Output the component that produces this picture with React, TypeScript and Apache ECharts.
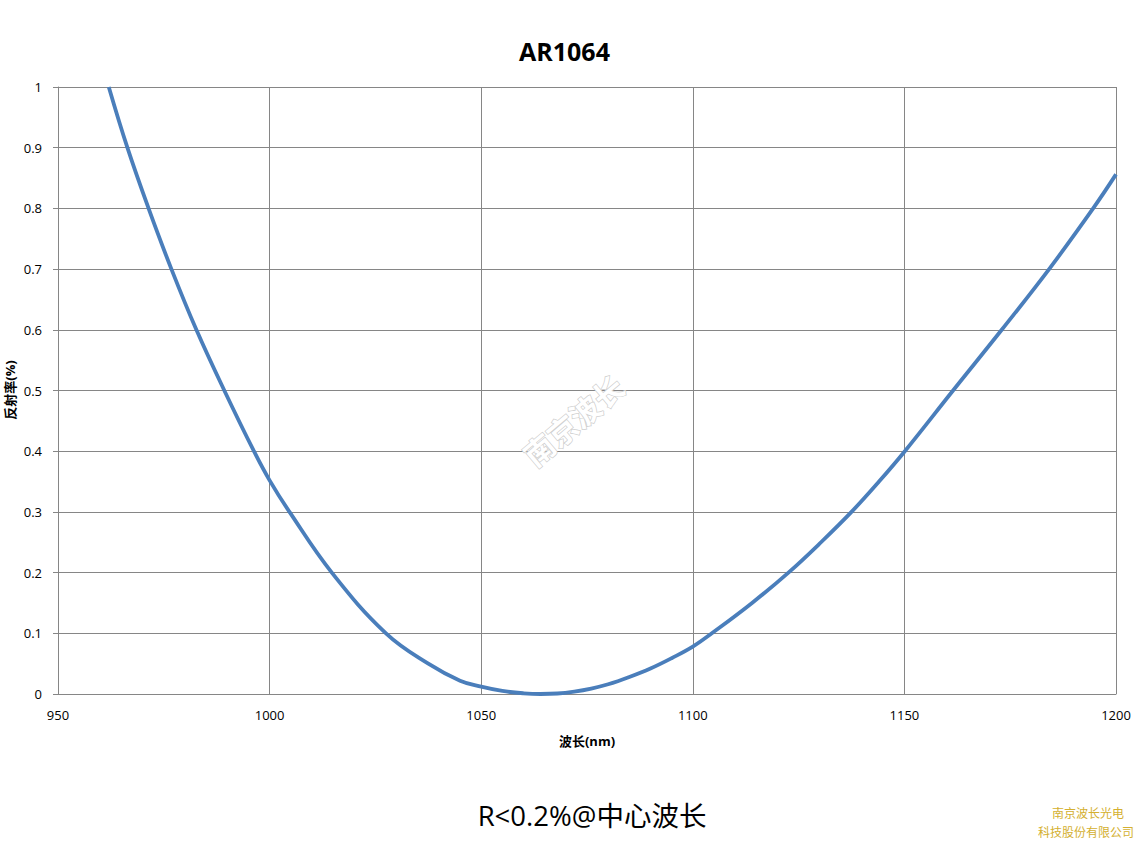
import React, { useEffect, useRef } from "react";
import * as echarts from "echarts";

const wavelengths = [962, 966.4, 971.4, 976.8, 982.7, 989.3, 996.3, 1000, 1004.7, 1014.7, 1027.5, 1037.5, 1045, 1050, 1055, 1060, 1064, 1068, 1072, 1076, 1080, 1085, 1090, 1095, 1100, 1104.5, 1114, 1122.6, 1130.3, 1137.5, 1144, 1150.1, 1161.5, 1173, 1184.2, 1194.6, 1200];
const reflectance = [1.0, 0.9, 0.8, 0.7, 0.6, 0.5, 0.4, 0.352, 0.3, 0.2, 0.1, 0.05, 0.022, 0.012, 0.005, 0.0012, 0.0, 0.0008, 0.004, 0.009, 0.016, 0.028, 0.042, 0.059, 0.078, 0.1, 0.15, 0.2, 0.25, 0.3, 0.35, 0.4, 0.5, 0.6, 0.7, 0.8, 0.856];
const titleText = "AR1064";
const xName = "波长(nm)";
const yName = "反射率(%)";
const noteText = "R<0.2%@中心波长";
const watermarkText = "南京波长";
const companyLines = ["南京波长光电", "科技股份有限公司"];

const font = "'Open Sans', 'Noto Sans CJK SC', sans-serif";

export default function App() {
  const ref = useRef<HTMLDivElement>(null);
  useEffect(() => {
    if (!ref.current) return;
    const chart = echarts.init(ref.current, null, { renderer: "svg" });
    chart.setOption({
      animation: false,
      backgroundColor: "#ffffff",
      textStyle: { fontFamily: font },
      title: {
        text: titleText,
        left: 514,
        top: 33,
        textStyle: { fontSize: 25, fontWeight: "bold", color: "#000", fontFamily: font },
      },
      grid: { left: 58, right: 32, top: 87, bottom: 151, containLabel: false, outerBoundsMode: "none" },
      xAxis: {
        type: "value",
        min: 950,
        max: 1200,
        interval: 50,
        name: xName,
        nameLocation: "middle",
        nameGap: 40,
        nameTextStyle: { fontSize: 13, fontWeight: "bold", color: "#000", fontFamily: font },
        axisLine: { show: true, lineStyle: { color: "#868686", width: 1 } },
        axisTick: { show: false },
        axisLabel: { margin: 14, fontSize: 13, color: "#000", fontFamily: font, formatter: (v: number) => String(v) },
        splitLine: { show: true, lineStyle: { color: "#868686", width: 1 } },
      },
      yAxis: {
        type: "value",
        min: 0,
        max: 1,
        interval: 0.1,
        axisLine: { show: true, lineStyle: { color: "#868686", width: 1 } },
        axisTick: { show: true, inside: false, length: 5, lineStyle: { color: "#868686" } },
        axisLabel: {
          margin: 16,
          fontSize: 13,
          color: "#000",
          fontFamily: font,
          formatter: (v: number) => String(Math.round(v * 10) / 10),
        },
        splitLine: { show: true, lineStyle: { color: "#868686", width: 1 } },
      },
      series: [
        {
          type: "line",
          data: wavelengths.map((w, i) => [w, reflectance[i]]),
          smooth: 0.4,
          showSymbol: false,
          symbol: "none",
          lineStyle: { color: "#4a7ebb", width: 3.8 },
          clip: true,
        },
      ],
      graphic: [
        {
          type: "text",
          x: 10,
          y: 390,
          rotation: Math.PI / 2,
          style: {
            text: yName,
            fontSize: 13,
            fontWeight: "bold",
            fontFamily: font,
            fill: "#000",
            align: "center",
            verticalAlign: "middle",
          },
        },
        {
          type: "text",
          x: 573,
          y: 420,
          rotation: 0.7,
          style: {
            text: watermarkText,
            fontSize: 30,
            fontWeight: "bold",
            fontFamily: "'Noto Sans CJK SC', sans-serif",
            fill: "#ffffff",
            stroke: "#cfcfcf",
            lineWidth: 1.5,
            align: "center",
            verticalAlign: "middle",
          },
          z: 1,
        },
        {
          type: "text",
          x: 592,
          y: 815,
          style: {
            text: noteText,
            fontSize: 27.5,
            fontFamily: font,
            fill: "#000",
            align: "center",
            verticalAlign: "middle",
          },
        },
        {
          type: "text",
          x: 1088,
          y: 812,
          style: {
            text: companyLines[0],
            fontSize: 12,
            fontFamily: "'Noto Sans CJK SC', sans-serif",
            fill: "#d4b030",
            align: "center",
            verticalAlign: "middle",
          },
        },
        {
          type: "text",
          x: 1086,
          y: 831,
          style: {
            text: companyLines[1],
            fontSize: 12,
            fontFamily: "'Noto Sans CJK SC', sans-serif",
            fill: "#d4b030",
            align: "center",
            verticalAlign: "middle",
          },
        },
      ],
    });
    return () => chart.dispose();
  }, []);
  return (
    <div
      ref={ref}
      style={{ position: "fixed", left: 0, top: 0, width: 1148, height: 845 }}
    />
  );
}
